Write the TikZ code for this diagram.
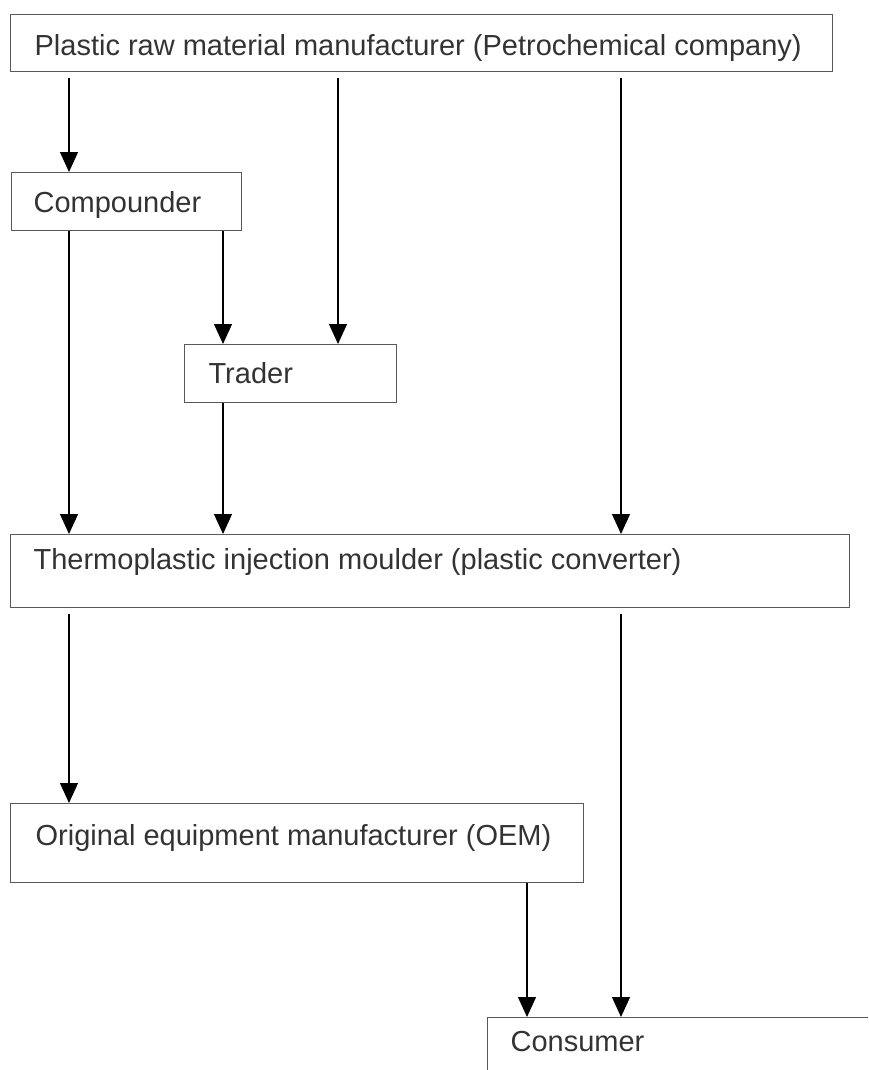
\documentclass[tikz,border=0pt]{standalone}
\usepackage{fontspec}
\setmainfont{Liberation Sans}
\usetikzlibrary{arrows.meta}
\definecolor{ink}{gray}{0.2}
\definecolor{rule}{gray}{0.35}
\tikzset{
  stage/.style={draw=rule, line width=1.2pt, rectangle, anchor=north west,
    inner ysep=2pt, font=\fontsize{29}{34}\selectfont, text=ink, align=left},
  flow/.style={draw=rule, line width=1.2pt, -{Triangle[length=20pt,width=18pt]}, black},
  gap/.style={shorten <=6pt}
}
% box text held at a fixed width so it never wraps
\newcommand{\boxline}[2]{\makebox[#1][l]{#2}}
\begin{document}
\begin{tikzpicture}[x=1pt,y=-1pt]
  \useasboundingbox (0,0) rectangle (868,1070);
  \clip (0,0) rectangle (868,1070);

  % supply-chain stages
  \node[stage, inner xsep=24pt, text height=39pt, text depth=14pt] (top) at (10,14)
    {\boxline{774pt}{Plastic raw material manufacturer (Petrochemical company)}};
  \node[stage, inner xsep=22pt, text height=38pt, text depth=16pt] (comp) at (11,172)
    {\boxline{186pt}{Compounder}};
  \node[stage, inner xsep=24pt, text height=37pt, text depth=17pt] (trader) at (184,344)
    {\boxline{164pt}{Trader}};
  \node[stage, inner xsep=23pt, text height=33pt, text depth=36pt] (conv) at (10,534)
    {\boxline{793pt}{Thermoplastic injection moulder (plastic converter)}};
  \node[stage, inner xsep=25pt, text height=40pt, text depth=35pt] (oem) at (10,803)
    {\boxline{523pt}{Original equipment manufacturer (OEM)}};
  \node[stage, inner xsep=23pt, text height=32pt, text depth=44pt] (cons) at (487,1017)
    {\boxline{354pt}{Consumer}};

  % connector columns
  \coordinate (ca) at (69,0);
  \coordinate (cb) at (223,0);
  \coordinate (cc) at (338,0);
  \coordinate (cd) at (621,0);
  \coordinate (ce) at (527,0);

  % flows
  \draw[flow, gap] (top.south -| ca) -- (comp.north -| ca);
  \draw[flow, gap] (top.south -| cc) -- (trader.north -| cc);
  \draw[flow, gap] (top.south -| cd) -- (conv.north -| cd);
  \draw[flow] (comp.south -| ca) -- (conv.north -| ca);
  \draw[flow] (comp.south -| cb) -- (trader.north -| cb);
  \draw[flow] (trader.south -| cb) -- (conv.north -| cb);
  \draw[flow, gap] (conv.south -| ca) -- (oem.north -| ca);
  \draw[flow, gap] (conv.south -| cd) -- (cons.north -| cd);
  \draw[flow] (oem.south -| ce) -- (cons.north -| ce);
\end{tikzpicture}
\end{document}
